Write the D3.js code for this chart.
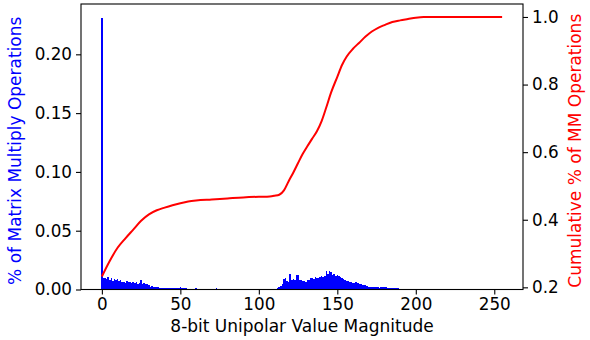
<!DOCTYPE html>
<html>
<head>
<meta charset="utf-8">
<script src="https://cdn.jsdelivr.net/npm/d3@7"></script>
<style>
  body { margin: 0; background: #fff; }
  svg text { font-family: "DejaVu Sans", sans-serif; }
  .tick text { font-size: 16.8px; fill: #000; }
  .domain, .tick line { stroke: #000; stroke-width: 1.1px; }
</style>
</head>
<body>
<script>
// share of MM operations per 8-bit value magnitude (0..255)
var histValues = [
  0.2312,
  0.0102, 0.0095, 0.0088, 0.0104, 0.0080, 0.0098, 0.0075, 0.0090, 0.0082, 0.0086,
  0.0070, 0.0078, 0.0062, 0.0066, 0.0058, 0.0070, 0.0060, 0.0064, 0.0056, 0.0068,
  0.0055, 0.0062, 0.0050, 0.0058, 0.0078, 0.0048, 0.0052, 0.0044, 0.0046, 0.0040,
  0.0024, 0.0026, 0.0022, 0.0020, 0.0024, 0.0018, 0.0016, 0.0014, 0.0017, 0.0013,
  0.0015, 0.0012, 0.0014, 0.0012, 0.0015, 0.0011, 0.0013, 0.0016, 0.0014, 0.0020,
  0.0012, 0.0015, 0.0014, 0.0010, 0.0006, 0.0004, 0.0005, 0.0003, 0.0004, 0.0012,
  0.0003, 0.0004, 0.0002, 0.0003, 0.0003, 0.0002, 0.0004, 0.0002, 0.0003, 0.0002,
  0.0003, 0.0002, 0.0011, 0.0002, 0.0003, 0.0002, 0.0002, 0.0003, 0.0002, 0.0002,
  0.0003, 0.0002, 0.0003, 0.0002, 0.0002, 0.0003, 0.0002, 0.0003, 0.0002, 0.0002,
  0.0003, 0.0002, 0.0002, 0.0003, 0.0002, 0.0003, 0.0002, 0.0002, 0.0003, 0.0002,
  0.0003, 0.0002, 0.0002, 0.0003, 0.0002, 0.0003, 0.0003, 0.0004, 0.0005, 0.0006,
  0.0008, 0.0010, 0.0018, 0.0030, 0.0045, 0.0090, 0.0100, 0.0072, 0.0068, 0.0130,
  0.0082, 0.0088, 0.0078, 0.0120, 0.0125, 0.0085, 0.0080, 0.0070, 0.0072, 0.0066,
  0.0078, 0.0084, 0.0100, 0.0095, 0.0088, 0.0105, 0.0098, 0.0096, 0.0110, 0.0112,
  0.0105, 0.0115, 0.0155, 0.0130, 0.0157, 0.0150, 0.0120, 0.0135, 0.0115, 0.0122,
  0.0118, 0.0105, 0.0095, 0.0088, 0.0080, 0.0072, 0.0070, 0.0060, 0.0062, 0.0055,
  0.0058, 0.0062, 0.0055, 0.0048, 0.0045, 0.0040, 0.0042, 0.0035, 0.0028, 0.0025,
  0.0022, 0.0020, 0.0021, 0.0018, 0.0020, 0.0019, 0.0017, 0.0018, 0.0020, 0.0024,
  0.0022, 0.0014, 0.0015, 0.0013, 0.0016, 0.0012, 0.0014, 0.0011, 0.0012, 0.0006,
  0.0004, 0.0003, 0.0005, 0.0002, 0.0003, 0.0004, 0.0002, 0.0003, 0.0002, 0.0003,
  0.0002, 0.0001, 0.0002, 0.0001, 0.0001, 0, 0, 0, 0, 0,
  0, 0, 0, 0, 0, 0, 0, 0, 0, 0,
  0, 0, 0, 0, 0, 0, 0, 0, 0, 0,
  0, 0, 0, 0, 0, 0, 0, 0, 0, 0,
  0, 0, 0, 0, 0, 0, 0, 0, 0, 0,
  0, 0, 0, 0, 0
];

// cumulative share
var cumX = [0, 5, 10, 15, 20, 25, 30, 35, 40, 45, 50, 55, 60, 70, 80, 90, 100, 107, 110, 113,
            116, 119, 122, 125, 128, 131, 134, 137, 140, 143, 146, 150, 153, 156, 160, 164,
            168, 172, 176, 180, 185, 190, 195, 200, 205, 210, 220, 230, 240, 255];
var cumY = [0.232, 0.278, 0.317, 0.345, 0.371, 0.397, 0.416, 0.428, 0.436, 0.443, 0.449, 0.454,
            0.457, 0.460, 0.463, 0.466, 0.468, 0.469, 0.471, 0.474, 0.487, 0.514, 0.540, 0.568,
            0.595, 0.618, 0.640, 0.662, 0.692, 0.733, 0.776, 0.823, 0.858, 0.883, 0.906, 0.924,
            0.942, 0.957, 0.968, 0.976, 0.985, 0.990, 0.994, 0.998, 1.000, 1.000, 1.000, 1.000,
            1.000, 1.000];

var xTicks = [0, 50, 100, 150, 200, 250];
var leftTicks = [0, 0.05, 0.10, 0.15, 0.20];
var rightTicks = [0.2, 0.4, 0.6, 0.8, 1.0];

var w = 590, h = 340;
var m = {left: 81, right: 67, top: 4, bottom: 50.5};

var svg = d3.select('body').append('svg').attr('width', w).attr('height', h);

var x = d3.scaleLinear().domain([-13.3, 268.3]).range([m.left, w - m.right]);
var yl = d3.scaleLinear().domain([0, 0.2428]).range([h - m.bottom, m.top]);
var yr = d3.scaleLinear().domain([0.1936, 1.0384]).range([h - m.bottom, m.top]);

// bars, snapped to whole pixels so neighbours touch without seams
svg.append('g').attr('shape-rendering', 'crispEdges')
    .selectAll('rect').data(histValues).enter().append('rect')
    .attr('x', function(d, i) { return Math.round(x(i - 0.5)); })
    .attr('width', function(d, i) { return Math.round(x(i + 0.5)) - Math.round(x(i - 0.5)); })
    .attr('y', function(d) { return Math.round(yl(d)); })
    .attr('height', function(d) { return Math.round(yl(0)) - Math.round(yl(d)); })
    .attr('fill', '#0000ff');

// cumulative line
var line = d3.line()
    .x(function(d) { return x(d[0]); })
    .y(function(d) { return yr(d[1]); })
    .curve(d3.curveMonotoneX);
svg.append('path')
    .datum(cumX.map(function(v, i) { return [v, cumY[i]]; }))
    .attr('d', line)
    .attr('fill', 'none')
    .attr('stroke', '#ff0000')
    .attr('stroke-width', 2);

// frame
svg.append('rect')
    .attr('x', m.left).attr('y', m.top)
    .attr('width', w - m.right - m.left).attr('height', h - m.bottom - m.top)
    .attr('fill', 'none').attr('stroke', '#000').attr('stroke-width', 1.1);

// axes
svg.append('g').attr('transform', 'translate(0,' + (h - m.bottom) + ')')
    .call(d3.axisBottom(x).tickValues(xTicks).tickSize(5).tickPadding(4).tickSizeOuter(0));
svg.append('g').attr('transform', 'translate(' + m.left + ',0)')
    .call(d3.axisLeft(yl).tickValues(leftTicks).tickFormat(d3.format('.2f')).tickSize(5).tickPadding(4).tickSizeOuter(0));
svg.append('g').attr('transform', 'translate(' + (w - m.right) + ',0)')
    .call(d3.axisRight(yr).tickValues(rightTicks).tickFormat(d3.format('.1f')).tickSize(5).tickPadding(4).tickSizeOuter(0));
svg.selectAll('.domain').remove();

// labels
svg.append('text')
    .attr('x', (m.left + w - m.right) / 2).attr('y', 332)
    .attr('text-anchor', 'middle').attr('font-size', '17px')
    .text('8-bit Unipolar Value Magnitude');

svg.append('text')
    .attr('transform', 'translate(21,' + ((m.top + h - m.bottom) / 2 + 4) + ') rotate(-90)')
    .attr('text-anchor', 'middle').attr('font-size', '17px').attr('fill', '#0000ff')
    .text('% of Matrix Multiply Operations');

svg.append('text')
    .attr('transform', 'translate(581,' + ((m.top + h - m.bottom) / 2 + 4) + ') rotate(-90)')
    .attr('text-anchor', 'middle').attr('font-size', '17px').attr('fill', '#ff0000')
    .text('Cumulative % of MM Operations');
</script>
</body>
</html>
